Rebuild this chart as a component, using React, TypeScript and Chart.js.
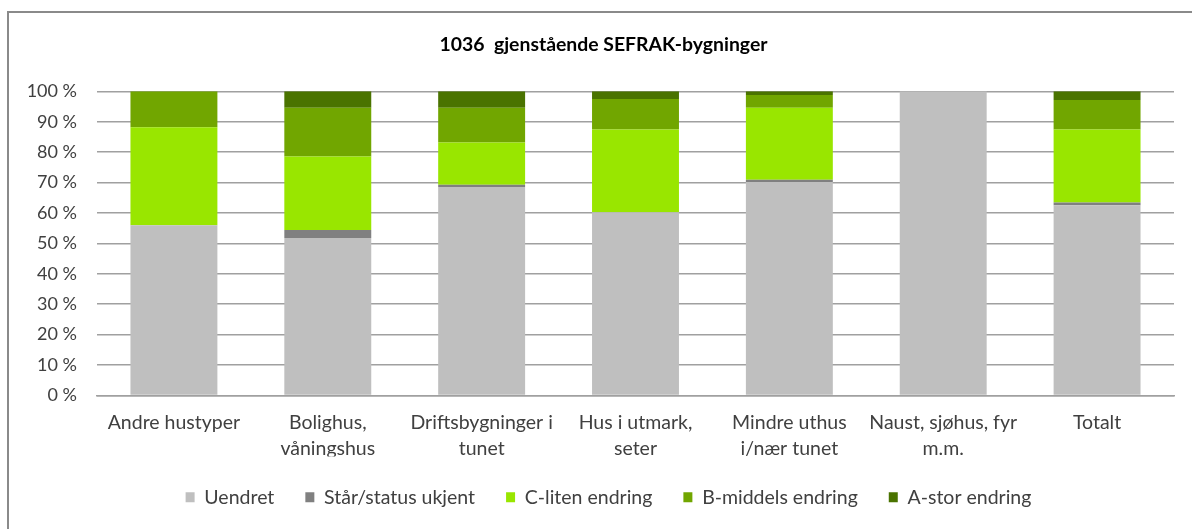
import React, { useEffect, useRef } from "react";
import { Chart, registerables } from "chart.js";

Chart.register(...registerables);

const TITLE = "1036  gjenstående SEFRAK-bygninger";

const categories: (string | string[])[] = [
  "Andre hustyper",
  ["Bolighus,", "våningshus"],
  ["Driftsbygninger i", "tunet"],
  ["Hus i utmark,", "seter"],
  ["Mindre uthus", "i/nær tunet"],
  ["Naust, sjøhus, fyr", "m.m."],
  "Totalt",
];

const seriesNames = [
  "Uendret",
  "Står/status ukjent",
  "C-liten endring",
  "B-middels endring",
  "A-stor endring",
];

const uendret = [56.0, 51.8, 68.5, 60.2, 70.2, 100, 62.5];
const statusUkjent = [0, 2.6, 0.8, 0, 0.7, 0, 0.9];
const cLiten = [32.2, 24.2, 13.9, 27.2, 23.7, 0, 24.0];
const bMiddels = [11.8, 16.0, 11.4, 10.1, 4.2, 0, 9.7];
const aStor = [0, 5.4, 5.4, 2.5, 1.2, 0, 2.9];

const seriesColors = ["#BFBFBF", "#808080", "#99E600", "#71A600", "#4A7300"];

const yTicks = [0, 10, 20, 30, 40, 50, 60, 70, 80, 90, 100];

const FONT = "Lato, 'Open Sans', 'Liberation Sans', sans-serif";

const shiftBoxes = {
  id: "shiftBoxes",
  afterLayout(chart: any) {
    const t = chart.titleBlock;
    if (t) {
      t.left += 4;
      t.right += 4;
    }
    const l = chart.legend;
    if (l) {
      l.left += 9;
      l.right += 9;
    }
  },
};

export default function App() {
  const ref = useRef<HTMLCanvasElement | null>(null);

  useEffect(() => {
    if (!ref.current) return;
    const values = [uendret, statusUkjent, cLiten, bMiddels, aStor];
    const chart = new Chart(ref.current, {
      type: "bar",
      data: {
        labels: categories,
        datasets: seriesNames.map((name, i) => ({
          label: name,
          data: values[i],
          backgroundColor: seriesColors[i],
          borderWidth: 0,
          barPercentage: 0.565,
          categoryPercentage: 1,
        })),
      },
      plugins: [shiftBoxes],
      options: {
        responsive: false,
        animation: false,
        layout: { padding: { left: 25, right: 18, top: 0, bottom: 12 } },
        plugins: {
          title: {
            display: true,
            text: TITLE,
            color: "#000000",
            font: { family: FONT, size: 19.4, weight: "bold" },
            padding: { top: 33, bottom: 35 },
          },
          legend: {
            display: true,
            position: "bottom",
            labels: {
              boxWidth: 9,
              boxHeight: 10,
              color: "#404040",
              font: { family: FONT, size: 19.5 },
              padding: 31,
            },
          },
          tooltip: { enabled: false },
        },
        scales: {
          x: {
            stacked: true,
            grid: { display: false, drawTicks: false },
            border: { display: true, color: "#A0A0A0", width: 1.5 },
            ticks: {
              color: "#404040",
              font: { family: FONT, size: 19.5, lineHeight: 26 / 19.5 },
              maxRotation: 0,
              autoSkip: false,
              padding: 14,
            },
            afterFit: (scale: any) => {
              scale.height = 61;
            },
          },
          y: {
            stacked: true,
            min: 0,
            max: 100,
            afterBuildTicks: (axis: any) => {
              axis.ticks = yTicks.map((v) => ({ value: v }));
            },
            afterFit: (scale: any) => {
              scale.width = 72;
            },
            grid: { color: "#A0A0A0", lineWidth: 1.5, drawTicks: false },
            border: { display: false },
            ticks: {
              color: "#404040",
              font: { family: FONT, size: 18 },
              padding: 20,
              callback: (v: any) => `${v} %`,
            },
          },
        },
      },
    });
    return () => chart.destroy();
  }, []);

  return (
    <div
      style={{
        position: "fixed",
        left: 0,
        top: 0,
        width: 1192,
        height: 529,
        overflow: "hidden",
        background: "#ffffff",
      }}
    >
      <div
        style={{
          position: "absolute",
          left: 7,
          top: 11,
          width: 1200,
          height: 540,
          border: "2px solid #8A8A8A",
          boxSizing: "border-box",
        }}
      />
      <canvas
        ref={ref}
        width={1192}
        height={529}
        style={{ position: "absolute", left: 0, top: 0, width: 1192, height: 529 }}
      />
    </div>
  );
}
